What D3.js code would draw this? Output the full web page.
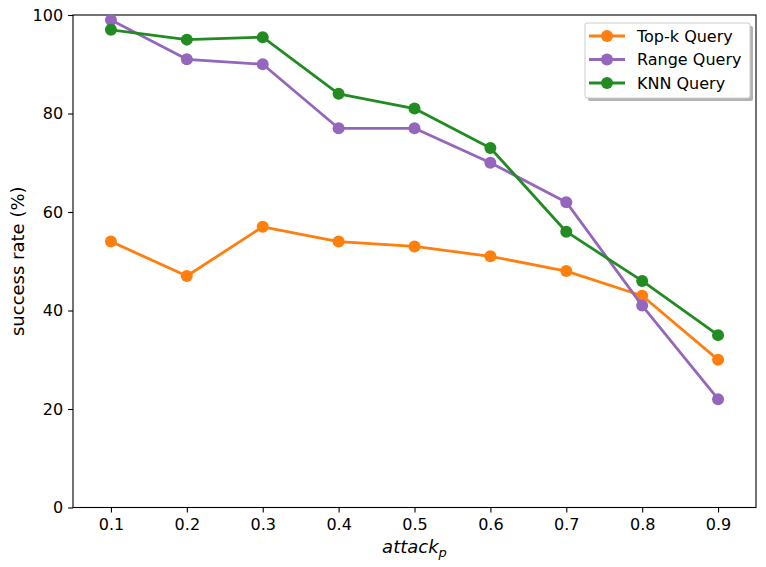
<!DOCTYPE html>
<html>
<head>
<meta charset="utf-8">
<script src="https://cdn.jsdelivr.net/npm/d3@7"></script>
<style>
  body { margin: 0; background: #fff; }
  text { font-family: "DejaVu Sans", sans-serif; fill: #000; }
</style>
</head>
<body>
<div id="chart"></div>
<script>
// data
var attackP = [0.1, 0.2, 0.3, 0.4, 0.5, 0.6, 0.7, 0.8, 0.9];
var topK = [54, 47, 57, 54, 53, 51, 48, 43, 30];
var rangeQ = [99, 91, 90, 77, 77, 70, 62, 41, 22];
var knnQ = [97, 95, 95.5, 84, 81, 73, 56, 46, 35];
var seriesNames = ["Top-k Query", "Range Query", "KNN Query"];
var seriesColors = ["#ff7f0e", "#9467bd", "#228b22"];
var yTicks = [0, 20, 40, 60, 80, 100];

var W = 766, H = 567;
var margin = {top: 15, right: 10, bottom: 59.5, left: 73};
var w = W - margin.left - margin.right,
    h = H - margin.top - margin.bottom;

var svg = d3.select("#chart").append("svg")
  .attr("width", W)
  .attr("height", H);

var g = svg.append("g")
  .attr("transform", "translate(" + margin.left + "," + margin.top + ")");

var x = d3.scaleLinear().domain([0.05, 0.95]).range([0, w]);
var y = d3.scaleLinear().domain([0, 100]).range([h, 0]);

// axes
var xAxis = g.append("g")
  .attr("transform", "translate(0," + h + ")")
  .call(d3.axisBottom(x).tickValues(attackP).tickFormat(d3.format(".1f")).tickSize(4.9).tickPadding(6));
var yAxis = g.append("g")
  .call(d3.axisLeft(y).tickValues(yTicks).tickSize(4.9).tickPadding(5));

[xAxis, yAxis].forEach(function(a) {
  a.select(".domain").remove();
  a.selectAll(".tick line").attr("stroke", "#000").attr("stroke-width", 1.1);
  a.selectAll(".tick text").style("font-size", "16px").style("font-family", "DejaVu Sans");
});

// frame
g.append("rect")
  .attr("width", w).attr("height", h)
  .attr("fill", "none").attr("stroke", "#000").attr("stroke-width", 1.1);

var allSeries = [topK, rangeQ, knnQ];
var line = d3.line()
  .x(function(d, i) { return x(attackP[i]); })
  .y(function(d) { return y(d); });

allSeries.forEach(function(vals, k) {
  g.append("path")
    .datum(vals)
    .attr("d", line)
    .attr("fill", "none")
    .attr("stroke", seriesColors[k])
    .attr("stroke-width", 2.8)
    .attr("stroke-linejoin", "round")
    .attr("stroke-linecap", "square");
  g.selectAll(null)
    .data(vals)
    .enter()
    .append("circle")
    .attr("cx", function(d, i) { return x(attackP[i]); })
    .attr("cy", function(d) { return y(d); })
    .attr("r", 6)
    .attr("fill", seriesColors[k]);
});

// axis labels
svg.append("text")
  .attr("x", margin.left + w / 2)
  .attr("y", 553)
  .attr("text-anchor", "middle")
  .style("font-size", "18px")
  .style("font-style", "italic")
  .text("attack")
  .append("tspan")
  .attr("dy", 4)
  .style("font-size", "13px")
  .text("p");

svg.append("text")
  .attr("transform", "translate(24," + (margin.top + h / 2) + ") rotate(-90)")
  .attr("text-anchor", "middle")
  .style("font-size", "18px")
  .text("success rate (%)");

// legend
var lg = svg.append("g").attr("transform", "translate(585,23)");
lg.append("rect")
  .attr("x", 3).attr("y", 3)
  .attr("width", 165).attr("height", 75)
  .attr("rx", 2)
  .attr("fill", "#b3b3b3");
lg.append("rect")
  .attr("width", 165).attr("height", 75)
  .attr("rx", 2)
  .attr("fill", "#fff")
  .attr("stroke", "#ccc")
  .attr("stroke-width", 1);

seriesNames.forEach(function(name, k) {
  var yy = 13 + k * 23.5;
  lg.append("line")
    .attr("x1", 4).attr("x2", 40)
    .attr("y1", yy).attr("y2", yy)
    .attr("stroke", seriesColors[k])
    .attr("stroke-width", 2.8);
  lg.append("circle")
    .attr("cx", 22).attr("cy", yy).attr("r", 6)
    .attr("fill", seriesColors[k]);
  lg.append("text")
    .attr("x", 52).attr("y", yy)
    .attr("dy", "0.36em")
    .style("font-size", "16px")
    .text(name);
});
</script>
</body>
</html>
